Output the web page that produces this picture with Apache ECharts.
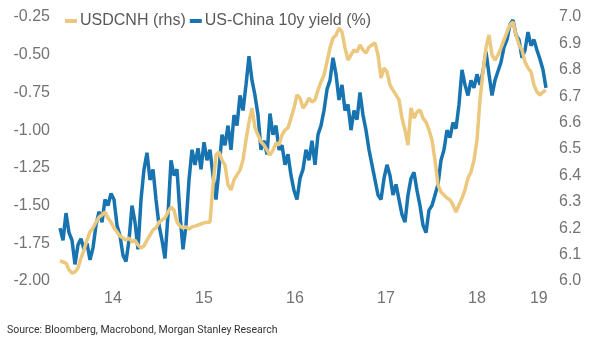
<!DOCTYPE html>
<html><head><meta charset="utf-8">
<script src="https://cdn.jsdelivr.net/npm/echarts@6/dist/echarts.min.js"></script>
<style>html,body{margin:0;padding:0;background:#fff}#c{width:601px;height:348px}</style>
</head><body><div id="c"></div>
<script>
// observation window (decimal years) of the regularly spaced series
const firstObs = 2013.918;
const lastObs = 2019.259;
const axisStart = 2013.896;
const axisEnd = 2019.358;

// US-China 10y yield spread (%), left axis
const spread = [
-1.65,-1.73,-1.55,-1.68,-1.73,-1.89,-1.76,-1.72,-1.79,-1.75,
-1.86,-1.78,-1.63,-1.54,-1.61,-1.46,-1.50,-1.42,-1.46,-1.63,
-1.70,-1.83,-1.87,-1.73,-1.50,-1.61,-1.79,-1.46,-1.26,-1.15,
-1.33,-1.26,-1.46,-1.63,-1.73,-1.85,-1.56,-1.20,-1.30,-1.26,
-1.56,-1.79,-1.63,-1.33,-1.13,-1.23,-1.12,-1.26,-1.08,-1.20,
-1.13,-1.30,-1.46,-1.26,-1.03,-1.10,-0.97,-1.13,-0.90,-0.97,
-0.77,-0.87,-0.70,-0.51,-0.67,-0.77,-0.90,-1.13,-1.07,-1.16,
-0.89,-1.03,-0.97,-1.13,-1.10,-1.23,-1.16,-1.30,-1.40,-1.46,
-1.32,-1.26,-1.13,-1.20,-1.07,-1.23,-1.03,-0.97,-0.87,-0.73,
-0.67,-0.52,-0.63,-0.80,-0.70,-0.87,-0.83,-1.00,-0.87,-0.93,
-0.75,-0.90,-1.00,-1.13,-1.23,-1.33,-1.43,-1.46,-1.32,-1.23,
-1.30,-1.43,-1.36,-1.46,-1.56,-1.61,-1.43,-1.32,-1.28,-1.40,
-1.50,-1.63,-1.68,-1.53,-1.50,-1.43,-1.36,-1.20,-1.13,-1.00,
-1.05,-0.95,-0.99,-0.83,-0.60,-0.70,-0.77,-0.67,-0.72,-0.63,
-0.70,-0.61,-0.48,-0.63,-0.77,-0.67,-0.61,-0.55,-0.45,-0.40,
-0.30,-0.27,-0.37,-0.40,-0.52,-0.47,-0.35,-0.44,-0.40,-0.47,
-0.53,-0.60,-0.72
];

// USDCNH, right axis
const usdcnh = [
6.076,6.072,6.068,6.042,6.030,6.034,6.049,6.087,6.117,6.155,
6.186,6.201,6.223,6.242,6.250,6.261,6.239,6.223,6.201,6.186,
6.170,6.163,6.155,6.163,6.148,6.155,6.136,6.125,6.133,6.155,
6.174,6.193,6.201,6.223,6.231,6.239,6.261,6.280,6.269,6.223,
6.208,6.201,6.205,6.197,6.205,6.208,6.212,6.216,6.220,6.223,
6.223,6.364,6.477,6.489,6.458,6.439,6.364,6.345,6.383,6.402,
6.420,6.458,6.534,6.602,6.655,6.580,6.553,6.527,6.515,6.496,
6.477,6.496,6.523,6.515,6.553,6.572,6.580,6.617,6.655,6.705,
6.693,6.655,6.670,6.693,6.678,6.686,6.723,6.754,6.780,6.830,
6.883,6.920,6.932,6.958,6.943,6.883,6.837,6.856,6.875,6.867,
6.894,6.875,6.864,6.886,6.894,6.902,6.856,6.769,6.807,6.792,
6.742,6.723,6.705,6.686,6.617,6.572,6.515,6.655,6.617,6.640,
6.648,6.617,6.602,6.572,6.534,6.458,6.364,6.337,6.326,6.314,
6.307,6.288,6.261,6.288,6.314,6.345,6.390,6.413,6.458,6.534,
6.686,6.792,6.883,6.932,6.856,6.837,6.856,6.883,6.913,6.943,
6.970,6.981,6.932,6.894,6.875,6.830,6.807,6.792,6.742,6.716,
6.705,6.716,6.723
];

const xTickPositions = [2014.5, 2015.5, 2016.5, 2017.5, 2018.5, 2019.18];
const xTickLabels = ['14', '15', '16', '17', '18', '19'];
const leftTicks = { min: -2, max: -0.25, interval: 0.25 };
const rightTicks = { min: 6.0, max: 7.0, interval: 0.1 };

function withDates(values) {
  const n = values.length;
  return values.map((v, i) => [firstObs + (lastObs - firstObs) * i / (n - 1), v]);
}

const FONT = '"Liberation Sans", Arial, sans-serif';
const chart = echarts.init(document.getElementById('c'), null, { renderer: 'canvas' });
chart.setOption({
  animation: false,
  backgroundColor: '#ffffff',
  textStyle: { fontFamily: FONT },
  grid: { left: 58, right: 46, top: 17, bottom: 67, containLabel: false },
  legend: {
    left: 60, top: 8,
    data: ['USDCNH (rhs)', 'US-China 10y yield (%)'],
    icon: 'rect', itemWidth: 12, itemHeight: 4, itemGap: 4,
    textStyle: { fontSize: 16, color: '#595959', fontFamily: FONT, padding: [0, 0, 0, -2] }
  },
  xAxis: {
    type: 'value', min: axisStart, max: axisEnd,
    axisLine: { show: false }, axisTick: { show: false }, splitLine: { show: false },
    axisLabel: {
      customValues: xTickPositions,
      fontSize: 16, color: '#737373', margin: 10, fontFamily: FONT,
      formatter: function (v) {
        const i = xTickPositions.findIndex(p => Math.abs(p - v) < 1e-6);
        return i >= 0 ? xTickLabels[i] : '';
      }
    }
  },
  yAxis: [
    {
      type: 'value', position: 'left', min: leftTicks.min, max: leftTicks.max, interval: leftTicks.interval,
      axisLine: { show: false }, axisTick: { show: false }, splitLine: { show: false },
      axisLabel: { fontSize: 16, color: '#737373', margin: 8, fontFamily: FONT, formatter: v => v.toFixed(2) }
    },
    {
      type: 'value', position: 'right', min: rightTicks.min, max: rightTicks.max, interval: rightTicks.interval,
      axisLine: { show: false }, axisTick: { show: false }, splitLine: { show: false },
      axisLabel: { fontSize: 16, color: '#737373', margin: 4, fontFamily: FONT, formatter: v => v.toFixed(1) }
    }
  ],
  series: [
    {
      name: 'US-China 10y yield (%)', type: 'line', yAxisIndex: 0,
      data: withDates(spread), showSymbol: false, symbol: 'none',
      lineStyle: { color: '#1874b0', width: 3.5 }, itemStyle: { color: '#1874b0' }, z: 2
    },
    {
      name: 'USDCNH (rhs)', type: 'line', yAxisIndex: 1,
      data: withDates(usdcnh), showSymbol: false, symbol: 'none',
      lineStyle: { color: '#ebc87e', width: 3.5 }, itemStyle: { color: '#ebc87e' }, z: 3
    }
  ],
  graphic: [{
    type: 'text', left: 7, top: 325,
    style: { text: 'Source: Bloomberg, Macrobond, Morgan Stanley Research', fontSize: 10.5, fill: '#333333', fontFamily: 'Roboto, sans-serif' }
  }]
});
</script></body></html>
